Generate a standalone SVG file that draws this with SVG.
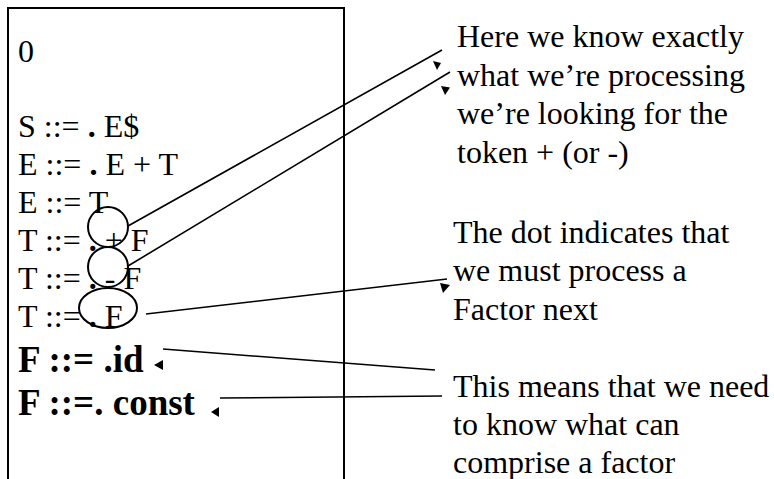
<svg xmlns="http://www.w3.org/2000/svg" width="774" height="479" viewBox="0 0 774 479">
<style>
.t{font-family:"Liberation Serif","Times New Roman",serif;font-size:32px;fill:#000}
.b{font-family:"Liberation Serif","Times New Roman",serif;font-size:37px;font-weight:bold;fill:#000}
.d{font-weight:bold}
.box{fill:none;stroke:#000;stroke-width:2}
.ring{fill:none;stroke:#000;stroke-width:2}
.ln{fill:none;stroke:#000;stroke-width:1.6}
.ah{fill:#000;stroke:none}
</style>
<rect width="774" height="479" fill="#fff"/>
<g id="state0">
<path class="box" d="M8,490 V8 H344 V490"/>
<text class="t" x="18" y="62">0</text>
<text class="t" x="18" y="137" xml:space="preserve">S ::= <tspan class="d">.</tspan> E$</text>
<text class="t" x="18" y="175" xml:space="preserve">E ::= <tspan class="d">.</tspan> E + T</text>
<text class="t" x="18" y="213">E ::= T</text>
<text class="t" x="18" y="251" xml:space="preserve">T ::= <tspan class="d">.</tspan> + F</text>
<text class="t" x="18" y="289" xml:space="preserve">T ::= <tspan class="d">.</tspan> - F</text>
<text class="t" x="18" y="327" xml:space="preserve">T ::= <tspan class="d">.</tspan> F</text>
<text class="b" x="18" y="372">F ::= .id</text>
<text class="b" x="18" y="415">F ::=. const</text>
</g>
<g id="marks">
<ellipse class="ring" cx="108" cy="227" rx="20" ry="20"/>
<ellipse class="ring" cx="108" cy="267" rx="20" ry="20"/>
<ellipse class="ring" cx="108" cy="308" rx="29" ry="20"/>
</g>
<g id="note1">
<text class="t" x="457" y="47">Here we know exactly</text>
<text class="t" x="457" y="86">what we’re processing</text>
<text class="t" x="457" y="124">we’re looking for the</text>
<text class="t" x="457" y="163">token + (or -)</text>
</g>
<g id="note2">
<text class="t" x="453" y="243">The dot indicates that</text>
<text class="t" x="453" y="281">we must process a</text>
<text class="t" x="453" y="320">Factor next</text>
</g>
<g id="note3">
<text class="t" x="453" y="397">This means that we need</text>
<text class="t" x="453" y="435">to know what can</text>
<text class="t" x="453" y="473">comprise a factor</text>
</g>
<g id="connectors">
<line class="ln" x1="128" y1="226" x2="442" y2="50"/>
<polygon class="ah" points="433,61 441,63 437,70"/>
<line class="ln" x1="128" y1="266" x2="450" y2="72"/>
<polygon class="ah" points="441,86 450,87.5 445,95"/>
<line class="ln" x1="146" y1="314" x2="447" y2="279"/>
<polygon class="ah" points="440,283 450,285 443,293"/>
<line class="ln" x1="163" y1="349" x2="435" y2="370"/>
<polygon class="ah" points="154,365 163,360 163,370"/>
<line class="ln" x1="220" y1="398" x2="442" y2="396"/>
<polygon class="ah" points="211,412 219,407 219,417"/>
</g>
</svg>
